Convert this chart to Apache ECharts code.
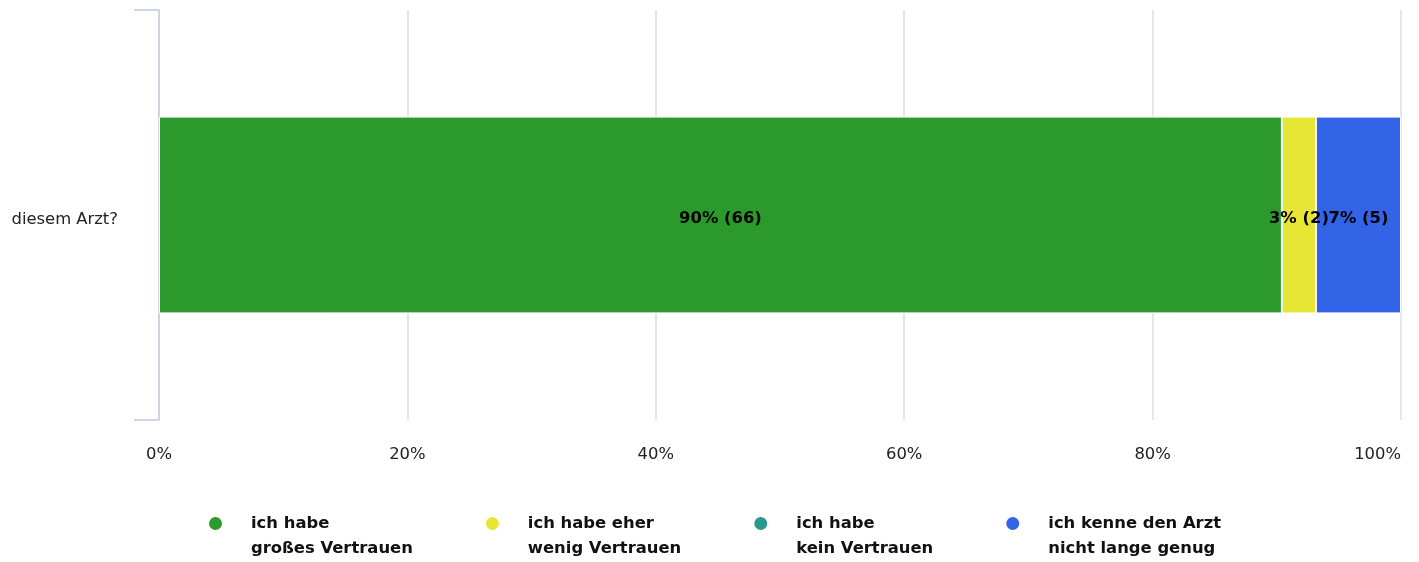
<!DOCTYPE html>
<html>
<head>
<meta charset="utf-8">
<script src="https://cdn.jsdelivr.net/npm/echarts@6/dist/echarts.min.js"></script>
<style>
html,body{margin:0;padding:0;background:#fff;}
#chart{width:1419px;height:562px;}
</style>
</head>
<body>
<div id="chart"></div>
<script>
const categories = ['diesem Arzt?'];
const seriesNames = ['ich habe\ngroßes Vertrauen', 'ich habe eher\nwenig Vertrauen', 'ich habe\nkein Vertrauen', 'ich kenne den Arzt\nnicht lange genug'];
const seriesCounts = [[66], [2], [0], [5]];
const seriesColors = ['#2b992b', '#e8e634', '#2a988e', '#3363e6'];
const xTickLabels = ['0%', '20%', '40%', '60%', '80%', '100%'];

const totals = categories.map((c, i) => seriesCounts.reduce((s, arr) => s + arr[i], 0));

const chart = echarts.init(document.getElementById('chart'));
const FONT = 'DejaVu Sans';
const FS = 16.4;
chart.setOption({
  animation: false,
  textStyle: { fontFamily: FONT },
  grid: { left: 159, right: 18, top: 10, bottom: 142, outerBoundsMode: 'none', containLabel: false },
  xAxis: {
    type: 'value', min: 0, max: 100, interval: 20,
    axisLine: { show: false }, axisTick: { show: false },
    splitLine: { lineStyle: { color: '#e6e6e6', width: 2 } },
    axisLabel: { margin: 27, color: '#222', fontSize: FS, fontFamily: FONT, alignMaxLabel: 'right',
      formatter: (v) => xTickLabels[Math.round(v / 20)] }
  },
  yAxis: {
    type: 'category', data: categories, inverse: true,
    axisLine: { show: true, lineStyle: { color: '#ccd6eb', width: 2 } },
    axisTick: { show: true, length: 25, lineStyle: { color: '#ccd6eb', width: 2 } },
    axisLabel: { margin: 41, color: '#222', fontSize: FS, fontFamily: FONT,
      formatter: (v) => '{a|' + v + '}',
      rich: { a: { fontSize: FS, fontFamily: FONT, color: '#222', padding: [10, 0, 0, 0] } } }
  },
  legend: {
    left: 202, top: 481,
    icon: 'circle', itemWidth: 15, itemHeight: 15, itemGap: 71,
    data: seriesNames,
    formatter: (n) => ' \n' + n,
    textStyle: { fontFamily: FONT, fontWeight: 'bold', fontSize: FS, color: '#111', lineHeight: 25, padding: [0, 0, 0, 23] }
  },
  series: seriesNames.map((name, si) => ({
    name, type: 'bar', stack: 'total', barWidth: '48%',
    itemStyle: { color: seriesColors[si], borderColor: '#fff', borderWidth: 1 },
    label: {
      show: true, position: 'inside', offset: [0, 4], color: '#000', fontWeight: 'bold', fontSize: FS, fontFamily: FONT,
      formatter: (p) => {
        const cnt = seriesCounts[si][p.dataIndex];
        if (!cnt) return '';
        return Math.round(cnt / totals[p.dataIndex] * 100) + '% (' + cnt + ')';
      }
    },
    data: seriesCounts[si].map((v, i) => v / totals[i] * 100)
  }))
});
</script>
</body>
</html>
